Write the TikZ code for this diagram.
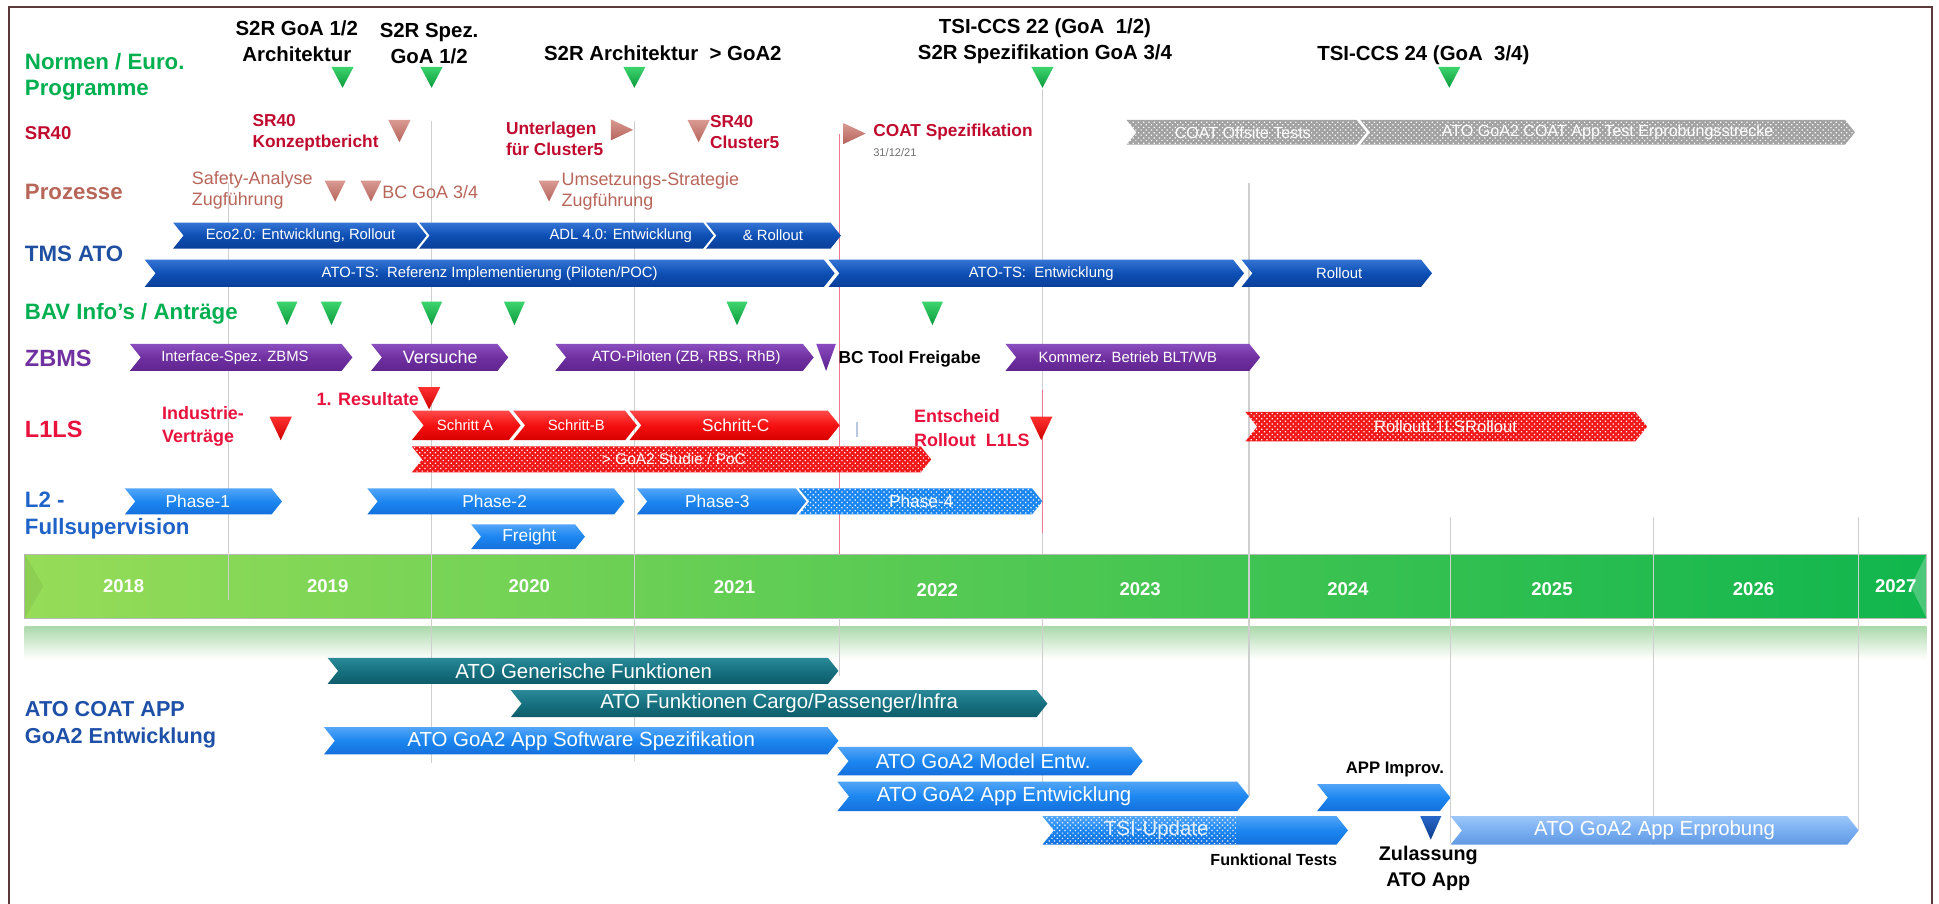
\documentclass[tikz,border=0pt]{standalone}
\usepackage{fontspec}
\setmainfont{Liberation Sans}
\usetikzlibrary{patterns.meta}

% text colours
\definecolor{framec}{HTML}{5C3A3A}
\definecolor{gridgrey}{HTML}{CFCFCF}
\definecolor{pinkline}{HTML}{F07890}
\definecolor{normc}{HTML}{00B050}
\definecolor{sr40c}{HTML}{C00A2E}
\definecolor{prozc}{HTML}{B8655A}
\definecolor{tmsc}{HTML}{1F4FA0}
\definecolor{zbmsc}{HTML}{7030A0}
\definecolor{l1c}{HTML}{E8123C}
\definecolor{l2c}{HTML}{1F63C8}
\definecolor{atoc}{HTML}{1F50A8}
\definecolor{datec}{HTML}{707070}
\definecolor{tickc}{HTML}{B8C8E0}
% bar colours
\definecolor{tmsT}{HTML}{3474D4}\definecolor{tmsM}{HTML}{0D4FB4}\definecolor{tmsB}{HTML}{0B3F98}
\definecolor{zbmsT}{HTML}{8B4FBF}\definecolor{zbmsM}{HTML}{7030A0}\definecolor{zbmsB}{HTML}{5F2490}
\definecolor{redT}{HTML}{FF4A4A}\definecolor{redM}{HTML}{F51010}\definecolor{redB}{HTML}{D80000}
\definecolor{l2T}{HTML}{52A5F8}\definecolor{l2M}{HTML}{1C86F0}\definecolor{l2B}{HTML}{1470DC}
\definecolor{tealT}{HTML}{2A8A98}\definecolor{tealM}{HTML}{16707F}\definecolor{tealB}{HTML}{0E5C6A}
\definecolor{appLT}{HTML}{9CC6F8}\definecolor{appLM}{HTML}{79AEF2}\definecolor{appLB}{HTML}{6199E0}
\definecolor{dotgrey}{HTML}{A2A2A2}
\definecolor{dotred}{HTML}{F01818}
% milestone triangles
\definecolor{gtriT}{HTML}{3DD46E}\definecolor{gtriB}{HTML}{0B9A3C}
\definecolor{rosyT}{HTML}{D99A92}\definecolor{rosyB}{HTML}{B5645C}
\definecolor{rtriT}{HTML}{FF3030}\definecolor{rtriB}{HTML}{CC0000}
\definecolor{ptriT}{HTML}{8A4AC0}\definecolor{ptriB}{HTML}{5A208A}
\definecolor{btriT}{HTML}{2A68C8}\definecolor{btriB}{HTML}{0A3A8C}
% time axis
\definecolor{yearL}{HTML}{96DC58}\definecolor{yearR}{HTML}{10B64E}
\definecolor{yearEdge}{HTML}{B8B8B8}
\definecolor{fadeG}{HTML}{ADDAAD}

\newcommand\fsz[2]{\fontsize{#1}{#2}\selectfont}

% chevron bar: [style]{name}{x left}{x right}{y top}{y bottom}{text x}{text}
\newcommand\chev[8][]{%
  \pgfmathsetmacro\chD{0.4*(#6-#5)}%
  \pgfmathsetmacro\chM{0.5*(#5+#6)}%
  \path[#1] (#3,#5) -- ({#4-\chD},#5) -- (#4,\chM) -- ({#4-\chD},#6) -- (#3,#6) -- ({#3+\chD},\chM) -- cycle;%
  \node[bartext] (#2) at (#7,\chM) {#8};%
}
% downward milestone: [style]{x}{y top}{width}{height}
\newcommand\dtri[5][]{\path[#1] ({#2-#4/2},#3) -- ({#2+#4/2},#3) -- (#2,{#3+#5}) -- cycle;}
% rightward milestone: [style]{x left}{y centre}{width}{height}
\newcommand\rtri[5][]{\path[#1] (#2,{#3-#5/2}) -- ({#2+#4},#3) -- (#2,{#3+#5/2}) -- cycle;}

\begin{document}
\begin{tikzpicture}[x=1pt,y=-1pt,
  bartext/.style={text=white,font=\fsz{12}{14},inner sep=0pt},
  rowlab/.style={anchor=west,inner sep=0pt,align=left,font=\bfseries\fsz{18}{21.5}},
  mslab/.style={inner sep=0pt,align=center,font=\bfseries\fsz{16.5}{21}},
  srtext/.style={anchor=west,inner sep=0pt,align=left,text=sr40c,font=\bfseries\fsz{14}{17}},
  prtext/.style={anchor=west,inner sep=0pt,align=left,text=prozc,font=\fsz{14.5}{17}},
  l1text/.style={anchor=west,inner sep=0pt,align=left,text=l1c,font=\bfseries\fsz{14.5}{19}},
  blktext/.style={inner sep=0pt,align=center,font=\bfseries\fsz{13.5}{17}},
  yearlab/.style={inner sep=0pt,text=white,font=\bfseries\fsz{15}{18}},
  gridl/.style={draw=gridgrey,line width=1.1pt},
  pinkl/.style={draw=pinkline,line width=1pt},
  tms/.style={top color=tmsT,bottom color=tmsB,middle color=tmsM},
  zbms/.style={top color=zbmsT,bottom color=zbmsB,middle color=zbmsM},
  redbar/.style={top color=redT,bottom color=redB,middle color=redM},
  l2/.style={top color=l2T,bottom color=l2B,middle color=l2M},
  teal/.style={top color=tealT,bottom color=tealB,middle color=tealM},
  appL/.style={top color=appLT,bottom color=appLB,middle color=appLM},
  dotsfill/.style={preaction={fill=#1},pattern={Dots[radius=0.7pt,distance=3pt,angle=45]},pattern color=white},
  gtri/.style={top color=gtriT,bottom color=gtriB},
  rosy/.style={top color=rosyT,bottom color=rosyB},
  rtri/.style={top color=rtriT,bottom color=rtriB},
  ptri/.style={top color=ptriT,bottom color=ptriB},
  btri/.style={top color=btriT,bottom color=btriB}]

\useasboundingbox (0,0) rectangle (1568,731);
\fill[white] (0,0) rectangle (1568,731);
\draw[draw=framec,line width=1.6pt] (7,731) -- (7,6) -- (1562,6) -- (1562,731);

% ---------- time axis ----------
\path[left color=yearL,right color=yearR,draw=yearEdge,line width=0.8pt] (20,448) rectangle (1558,500);
\fill[black,opacity=0.06] (20,448) -- (35,474) -- (20,500) -- cycle;
\fill[white,opacity=0.25] (1558,448) -- (1545,474) -- (1558,500) -- cycle;
\path[top color=fadeG,bottom color=white] (20,507) rectangle (1558,533);
\node[yearlab] (y2018) at (100,474) {2018};
\node[yearlab] (y2019) at (265,474) {2019};
\node[yearlab] (y2020) at (428,474) {2020};
\node[yearlab] (y2021) at (594,475) {2021};
\node[yearlab] (y2022) at (758,477) {2022};
\node[yearlab] (y2023) at (922,476) {2023};
\node[yearlab] (y2024) at (1090,476) {2024};
\node[yearlab] (y2025) at (1255,476) {2025};
\node[yearlab] (y2026) at (1418,476) {2026};
\node[yearlab] (y2027) at (1533,474) {2027};

% ---------- grid lines ----------
\draw[gridl] (185,148) -- (185,485);
\draw[gridl] (349,98) -- (349,617);
\draw[gridl] (513,98) -- (513,615);
\draw[gridl] (679,500) -- (679,547);
\draw[gridl] (843,72) -- (843,448);
\draw[gridl] (843,500) -- (843,639);
\draw[gridl] (1010,148) -- (1010,644);
\draw[gridl] (1173,418) -- (1173,682);
\draw[gridl] (1337,418) -- (1337,683);
\draw[gridl] (1503,418) -- (1503,671);
\draw[pinkl] (679,108) -- (679,448);
\draw[pinkl] (843,315) -- (843,431);

% ---------- Normen / Euro. Programme ----------
\node[rowlab,text=normc] (lnorm) at (20,62) {Normen / Euro.\\Programme};
\node[mslab] (ms1) at (240,33) {S2R GoA 1/2\\Architektur};
\node[mslab] (ms2) at (347,35) {S2R Spez.\\GoA 1/2};
\node[mslab] (ms3) at (536,43) {S2R Architektur\ \ > GoA2};
\node[mslab] (ms4) at (845,33) {TSI-CCS 22 (GoA\ \ 1/2)\\S2R Spezifikation GoA 3/4};
\node[mslab] (ms5) at (1151,45) {TSI-CCS 24 (GoA\ \ 3/4)};
\dtri[gtri]{277}{54}{18}{17}
\dtri[gtri]{349}{54}{18}{17}
\dtri[gtri]{513}{54}{18}{17}
\dtri[gtri]{843}{54}{18}{17}
\dtri[gtri]{1172}{54}{18}{17}

% ---------- SR40 ----------
\node[rowlab,text=sr40c,font=\bfseries\fsz{15}{18}] (lsr40) at (20,108) {SR40};
\node[srtext] (konz) at (204,107) {SR40\\Konzeptbericht};
\dtri[rosy]{323}{97}{18}{18}
\node[srtext] (unterl) at (409,112) {Unterlagen\\für Cluster5};
\rtri[rosy]{494}{105}{18}{17}
\dtri[rosy]{565}{97}{18}{18}
\node[srtext] (clus5) at (574,107) {SR40\\Cluster5};
\rtri[rosy]{682}{108}{18}{17}
\node[srtext] (coatspez) at (706,107) {COAT Spezifikation};
\node[anchor=west,inner sep=0pt,font=\fsz{9}{11},text=datec] (datum) at (706,123) {31/12/21};
\chev[dotsfill=dotgrey]{offsite}{911}{1105}{97}{117}{1005}{\fsz{13}{15}COAT Offsite Tests}
\chev[dotsfill=dotgrey]{teststr}{1100}{1500}{97}{117}{1300}{\fsz{13}{15}ATO GoA2 COAT App Test Erprobungsstrecke}

% ---------- Prozesse ----------
\node[rowlab,text=prozc] (lproz) at (20,155) {Prozesse};
\node[prtext] (safety) at (155,154) {Safety-Analyse\\Zugführung};
\dtri[rosy]{271}{146}{17}{17}
\dtri[rosy]{300}{146}{17}{17}
\node[prtext] (bcgoa) at (309,155) {BC GoA 3/4};
\dtri[rosy]{444}{146}{17}{17}
\node[prtext] (umsetz) at (454,155) {Umsetzungs-Strategie\\Zugführung};

% ---------- TMS ATO ----------
\node[rowlab,text=tmsc] (ltms) at (20,205) {TMS ATO};
\chev[tms]{eco}{140}{345}{180}{201}{243}{Eco2.0: Entwicklung, Rollout}
\chev[tms]{adl}{339}{577}{180}{201}{502}{ADL 4.0: Entwicklung}
\chev[tms]{adlroll}{571}{680}{180}{201}{625}{\& Rollout}
\chev[tms]{atotsref}{117}{675}{210}{232}{396}{ATO-TS:\ \ Referenz Implementierung (Piloten/POC)}
\chev[tms]{atotsent}{670}{1006}{210}{232}{842}{ATO-TS:\ \ Entwicklung}
\chev[tms]{tmsroll}{1004}{1158}{210}{232}{1083}{Rollout}

% ---------- BAV ----------
\node[rowlab,text=normc] (lbav) at (20,254) {BAV Info’s / Anträge};
\dtri[gtri]{232}{244}{17}{19}
\dtri[gtri]{268}{244}{17}{19}
\dtri[gtri]{349}{244}{17}{19}
\dtri[gtri]{416}{244}{17}{19}
\dtri[gtri]{596}{244}{17}{19}
\dtri[gtri]{754}{244}{17}{19}

% ---------- ZBMS ----------
\node[rowlab,text=zbmsc,font=\bfseries\fsz{19}{22}] (lzbms) at (20,290) {ZBMS};
\chev[zbms]{ifspec}{105}{285}{278}{300}{190}{Interface-Spez. ZBMS}
\chev[zbms]{versuche}{300}{411}{278}{300}{356}{\fsz{14.5}{17}Versuche}
\chev[zbms]{piloten}{449}{658}{278}{300}{555}{ATO-Piloten (ZB, RBS, RhB)}
\dtri[ptri]{668}{278}{16}{22}
\node[anchor=west,inner sep=0pt,font=\bfseries\fsz{14}{17}] (bctool) at (678,290) {BC Tool Freigabe};
\chev[zbms]{kommerz}{813}{1019}{278}{300}{912}{Kommerz. Betrieb BLT/WB}

% ---------- L1LS ----------
\node[rowlab,text=l1c,font=\bfseries\fsz{19}{22}] (ll1) at (20,347) {L1LS};
\node[l1text] (industrie) at (131,345) {Industrie-\\Verträge};
\dtri[rtri]{227}{337}{18}{19}
\node[l1text,anchor=east] (result) at (339,323) {1. Resultate};
\dtri[rtri]{347}{313}{18}{18}
\chev[redbar]{schrA}{333}{421}{332}{356}{376}{Schritt A}
\chev[redbar]{schrB}{415}{515}{332}{356}{466}{Schritt-B}
\chev[redbar]{schrC}{509}{679}{332}{356}{595}{\fsz{14}{17}Schritt-C}
\draw[draw=tickc,line width=1pt] (693,341) -- (693,353);
\node[l1text] (entscheid) at (739,346) {Entscheid\\Rollout\ \ L1LS};
\dtri[rtri]{842}{337}{18}{19}
\chev[dotsfill=dotred]{studie}{333}{753}{361}{382}{545}{\fsz{12.5}{15}> GoA2 Studie / PoC}
\chev[dotsfill=dotred]{l1roll}{1007}{1332}{333}{357}{1169}{\fsz{13.5}{16}RolloutL1LSRollout}

% ---------- L2 ----------
\node[rowlab,text=l2c] (ll2) at (20,417) {L2 -\\Fullsupervision};
\chev[l2]{ph1}{101}{228}{395}{416}{160}{\fsz{14}{17}Phase-1}
\chev[l2]{ph2}{297}{505}{395}{416}{400}{\fsz{14}{17}Phase-2}
\chev[l2]{ph3}{515}{652}{395}{416}{580}{\fsz{14}{17}Phase-3}
\chev[dotsfill=l2M]{ph4}{646}{843}{395}{416}{745}{\fsz{14}{17}Phase-4}
\chev[l2]{freight}{381}{473}{424}{444}{428}{\fsz{14}{17}Freight}

% ---------- ATO COAT APP ----------
\node[rowlab,text=atoc,font=\bfseries\fsz{17.5}{22}] (lato) at (20,586) {ATO COAT APP\\GoA2 Entwicklung};
\chev[teal]{gener}{265}{678}{532}{553}{472}{\fsz{16.5}{19}ATO Generische Funktionen}
\chev[teal]{cargo}{413}{847}{558}{580}{630}{\fsz{16.5}{19}ATO Funktionen Cargo/Passenger/Infra}
\chev[l2]{swspez}{262}{678}{588}{610}{470}{\fsz{16.5}{19}ATO GoA2 App Software Spezifikation}
\chev[l2]{model}{677}{924}{604}{627}{795}{\fsz{16.5}{19}ATO GoA2 Model Entw.}
\chev[l2]{appentw}{677}{1010}{632}{656}{812}{\fsz{16.5}{19}ATO GoA2 App Entwicklung}
% TSI update: dotted first part, solid tail
\path[l2] (843,660) -- (1080.8,660) -- (1090,671.5) -- (1080.8,683) -- (843,683) -- (852.2,671.5) -- cycle;
\begin{scope}
  \clip (840,655) rectangle (1000,690);
  \path[pattern={Dots[radius=0.7pt,distance=3pt,angle=45]},pattern color=white]
    (843,660) -- (1000,660) -- (1000,683) -- (843,683) -- (852.2,671.5) -- cycle;
\end{scope}
\node[bartext,text=white!85!l2T] (tsi) at (935,671.5) {\fsz{16.5}{19}TSI-Update};
\node[blktext,font=\bfseries\fsz{13}{16}] (funktests) at (1030,695) {Funktional Tests};
\node[blktext] (improv) at (1128,622) {APP Improv.};
\chev[l2]{improvbar}{1065}{1173}{634}{656}{1119}{}
\dtri[btri]{1157}{660}{17}{19}
\node[blktext,font=\bfseries\fsz{16}{21}] (zulassung) at (1155,702) {Zulassung\\ATO App};
\chev[appL]{erprob}{1173}{1503}{660}{683}{1338}{\fsz{16.5}{19}ATO GoA2 App Erprobung}

\end{tikzpicture}
\end{document}
